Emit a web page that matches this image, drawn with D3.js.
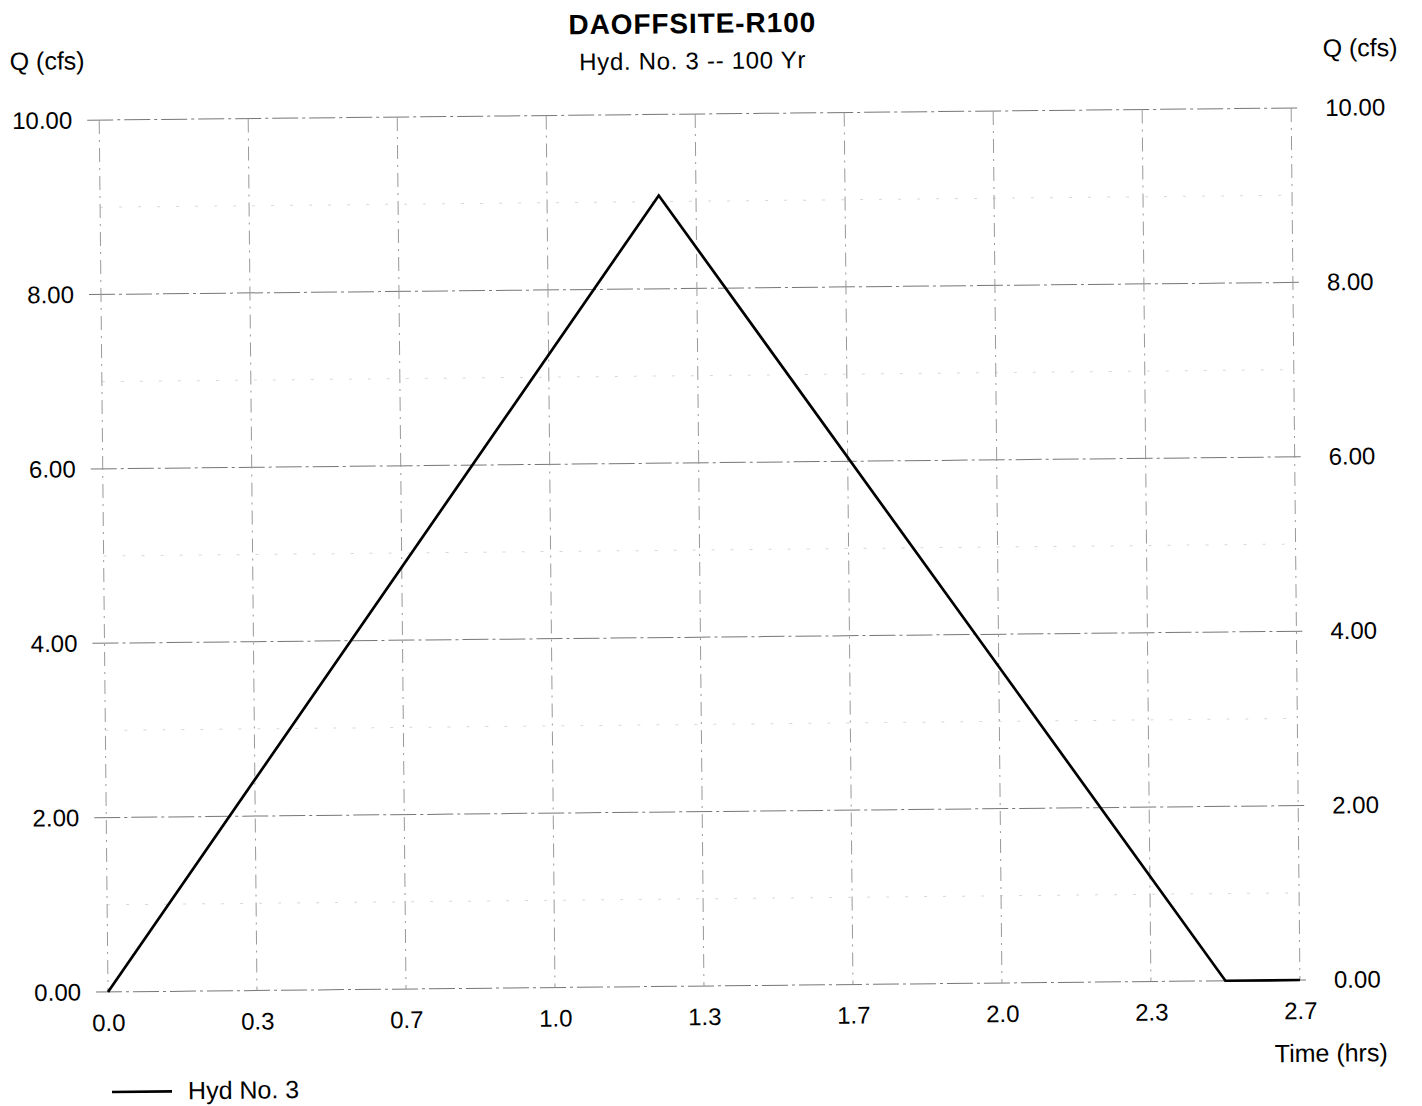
<!DOCTYPE html>
<html>
<head>
<meta charset="utf-8">
<script src="https://cdn.jsdelivr.net/npm/d3@7"></script>
<style>
  html, body { margin: 0; padding: 0; background: #fff; }
  svg { display: block; }
  text { font-family: "Liberation Sans", Arial, Helvetica, sans-serif; fill: #000; }
</style>
</head>
<body>
<svg id="chart" width="1422" height="1106"></svg>
<script>
// ---- Data ----
const timeHrs = [0, 1.25, 2.5, 2.6667];
const flowCfs = [0, 9.07, 0, 0];

const xTickValues = [0, 0.3333, 0.6667, 1.0, 1.3333, 1.6667, 2.0, 2.3333, 2.6667];
const xTickLabels = ["0.0", "0.3", "0.7", "1.0", "1.3", "1.7", "2.0", "2.3", "2.7"];
const yTickValues = [0, 2, 4, 6, 8, 10];
const yTickLabels = ["0.00", "2.00", "4.00", "6.00", "8.00", "10.00"];
const yMinorValues = [1, 3, 5, 7, 9];

const titleText = "DAOFFSITE-R100";
const subtitleText = "Hyd. No. 3 -- 100 Yr";
const yAxisTitle = "Q (cfs)";
const xAxisTitle = "Time (hrs)";
const seriesName = "Hyd No. 3";

// ---- Layout ----
const svg = d3.select("#chart");
const x0 = 108, x1 = 1300, yBottom = 992, yTop = 120;
const x = d3.scaleLinear().domain([0, 2.6667]).range([x0, x1]);
const y = d3.scaleLinear().domain([0, 10]).range([yBottom, yTop]);

// whole page is a slightly tilted scan
const g = svg.append("g").attr("transform", `rotate(-0.577, ${x0}, ${yBottom})`);

// minor horizontal grid (faint dotted)
g.append("g").selectAll("line").data(yMinorValues).join("line")
  .attr("x1", x0).attr("x2", x1)
  .attr("y1", d => y(d)).attr("y2", d => y(d))
  .attr("stroke", "#d8d8d8").attr("stroke-width", 1)
  .attr("stroke-dasharray", "3,16");

// major horizontal grid
g.append("g").selectAll("line").data(yTickValues).join("line")
  .attr("x1", x0 - 12).attr("x2", x1 + 10)
  .attr("y1", d => y(d)).attr("y2", d => y(d))
  .attr("stroke", "#777").attr("stroke-width", 1)
  .attr("stroke-dasharray", "26,4,3,4");

// vertical grid
g.append("g").selectAll("line").data(xTickValues).join("line")
  .attr("x1", d => x(d)).attr("x2", d => x(d))
  .attr("y1", yTop).attr("y2", yBottom)
  .attr("stroke", "#999").attr("stroke-width", 1)
  .attr("stroke-dasharray", "14,6,2,6");

// axes (labels)
const yFmtMap = new Map(yTickValues.map((v, i) => [v, yTickLabels[i]]));
const xFmtMap = new Map(xTickValues.map((v, i) => [v, xTickLabels[i]]));

const leftAxis = g.append("g").attr("transform", `translate(${x0},0)`)
  .call(d3.axisLeft(y).tickValues(yTickValues).tickFormat(d => yFmtMap.get(d))
    .tickSize(0).tickPadding(27));
const rightAxis = g.append("g").attr("transform", `translate(${x1},0)`)
  .call(d3.axisRight(y).tickValues(yTickValues).tickFormat(d => yFmtMap.get(d))
    .tickSize(0).tickPadding(34));
const bottomAxis = g.append("g").attr("transform", `translate(0,${yBottom})`)
  .call(d3.axisBottom(x).tickValues(xTickValues).tickFormat(d => xFmtMap.get(d))
    .tickSize(0).tickPadding(22));

[leftAxis, rightAxis, bottomAxis].forEach(a => {
  a.select(".domain").remove();
  a.selectAll("text").style("font-size", "24px").attr("fill", "#000");
});

// hydrograph line
const line = d3.line().x((d, i) => x(timeHrs[i])).y(d => y(d));
g.append("path").datum(flowCfs)
  .attr("d", line)
  .attr("fill", "none").attr("stroke", "#000").attr("stroke-width", 2.7)
  .attr("stroke-linejoin", "miter");

// titles
g.append("text").attr("x", 702).attr("y", 39).attr("text-anchor", "middle")
  .style("font-size", "28px").style("font-weight", "bold").style("letter-spacing", "0.9px")
  .text(titleText);
g.append("text").attr("x", 702).attr("y", 75).attr("text-anchor", "middle")
  .style("font-size", "24px").style("letter-spacing", "0.7px")
  .text(subtitleText);

g.append("text").attr("x", 19).attr("y", 69)
  .style("font-size", "25px").text(yAxisTitle);
g.append("text").attr("x", 1332).attr("y", 69)
  .style("font-size", "25px").text(yAxisTitle);
g.append("text").attr("x", 1387).attr("y", 1074).attr("text-anchor", "end")
  .style("font-size", "25px").text(xAxisTitle);

// legend
g.append("line").attr("x1", 111).attr("x2", 171).attr("y1", 1092).attr("y2", 1092)
  .attr("stroke", "#000").attr("stroke-width", 2.6);
g.append("text").attr("x", 187).attr("y", 1100)
  .style("font-size", "25px").text(seriesName);
</script>
</body>
</html>
